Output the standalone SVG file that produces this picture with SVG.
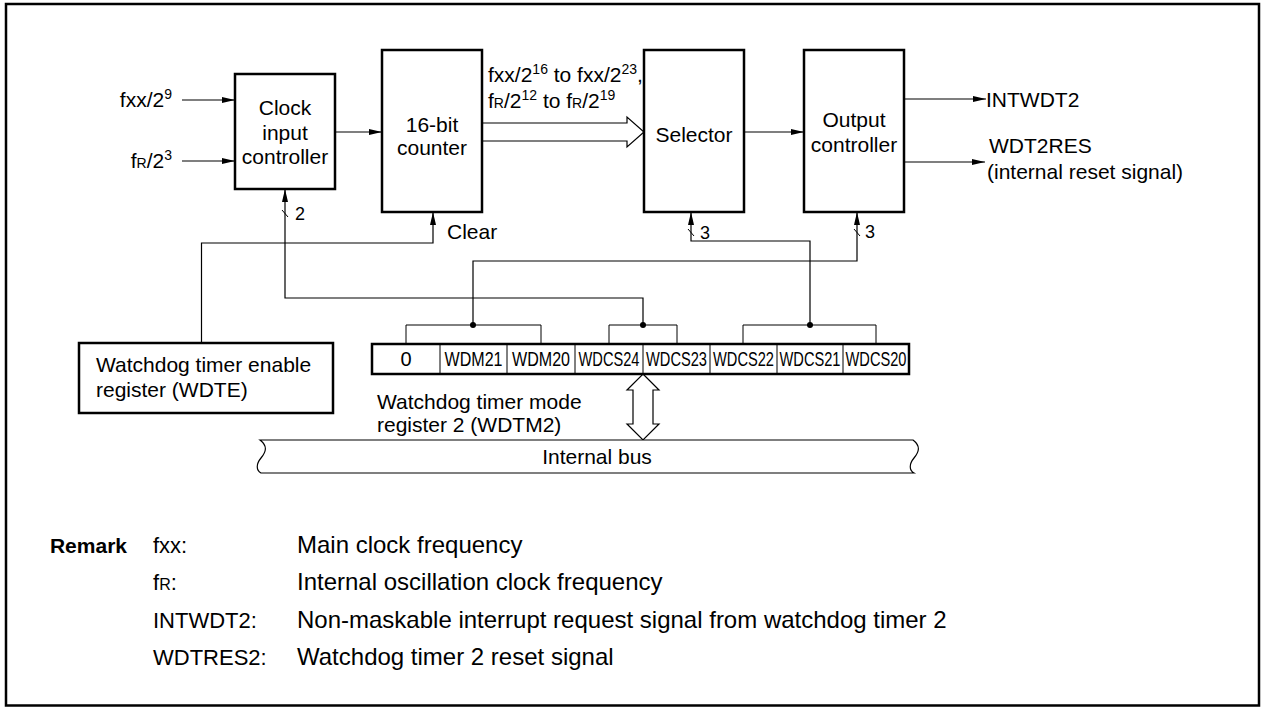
<svg xmlns="http://www.w3.org/2000/svg" width="1262" height="707" viewBox="0 0 1262 707">
<style>
text{font-family:"Liberation Sans",Arial,Helvetica,sans-serif;font-size:21px;fill:#000}
.box{fill:#fff;stroke:#000;stroke-width:2.5}
.ln{fill:none;stroke:#000;stroke-width:1.2}
.thin{fill:none;stroke:#000;stroke-width:1}
.c{text-anchor:middle}
.reg{font-size:20px;text-anchor:middle}
.lb{font-size:22px}
.rm{font-size:24px}
.sm{font-size:18px}
</style>
<defs>
<marker id="ah" markerWidth="13" markerHeight="6" refX="13" refY="3" orient="auto" markerUnits="userSpaceOnUse"><path d="M0,0 L13,3 L0,6 z" fill="#000"/></marker>
</defs>
<rect x="6" y="4" width="1253" height="701.5" fill="#fff" stroke="#000" stroke-width="2.5"/>

<g id="connectors">
<path class="ln" d="M182,100 H235" marker-end="url(#ah)"/>
<path class="ln" d="M182,161 H235" marker-end="url(#ah)"/>
<path class="ln" d="M335,132 H382" marker-end="url(#ah)"/>
<path class="ln" d="M744,132 H804" marker-end="url(#ah)"/>
<path class="ln" d="M904,99 H986" marker-end="url(#ah)"/>
<path class="ln" d="M904,162 H985" marker-end="url(#ah)"/>
<path class="ln" d="M201.5,343 V243 H433 V212" marker-end="url(#ah)"/>
<path class="ln" d="M643,325 V298 H285 V189" marker-end="url(#ah)"/>
<path class="ln" d="M810,325 V241 H691 V212" marker-end="url(#ah)"/>
<path class="ln" d="M473,325 V261 H857 V212" marker-end="url(#ah)"/>
<path class="thin" d="M282,210 L288,217 M688,229 L694,236 M854,229 L860,236"/>
<path class="thin" d="M406,344 V325 H541 V344 M609,344 V325 H677 V344 M743,344 V325 H876 V344"/>
<circle cx="473" cy="325" r="3"/>
<circle cx="643" cy="325" r="3"/>
<circle cx="810" cy="325" r="3"/>
<path d="M482,123 H627 V117 L644,132 L627,147 V141 H482" fill="#fff" stroke="#000" stroke-width="1.2"/>
<path d="M643,374 L659,390 L653,390 L653,424 L659,424 L643,440 L627,424 L633,424 L633,390 L627,390 Z" fill="#fff" stroke="#000" stroke-width="1.2"/>
</g>

<g id="inputs">
<text x="172" y="107" text-anchor="end">fxx/2<tspan font-size="14" dy="-8">9</tspan></text>
<text x="172" y="168" text-anchor="end">f<tspan font-size="14">R</tspan>/2<tspan font-size="14" dy="-8">3</tspan></text>
</g>

<g id="clock-input-controller">
<rect class="box" x="235" y="74" width="100" height="115"/>
<text class="c" x="285" y="115">Clock</text>
<text class="c" x="285" y="140">input</text>
<text class="c" x="285" y="164">controller</text>
<text class="sm" x="295" y="220">2</text>
</g>

<g id="counter">
<rect class="box" x="382" y="50" width="100" height="162"/>
<text class="c" x="432" y="132">16-bit</text>
<text class="c" x="432" y="155">counter</text>
<text x="447" y="239">Clear</text>
</g>

<g id="counter-output-label">
<text x="488" y="82">fxx/2<tspan font-size="14" dy="-8">16</tspan><tspan dy="8"> to fxx/2</tspan><tspan font-size="14" dy="-8">23</tspan><tspan dy="8">,</tspan></text>
<text x="488" y="108">f<tspan font-size="14">R</tspan>/2<tspan font-size="14" dy="-8">12</tspan><tspan dy="8"> to f</tspan><tspan font-size="14">R</tspan>/2<tspan font-size="14" dy="-8">19</tspan></text>
</g>

<g id="selector">
<rect class="box" x="644" y="50" width="100" height="162"/>
<text class="c" x="694" y="142">Selector</text>
<text class="sm" x="700" y="239">3</text>
</g>

<g id="output-controller">
<rect class="box" x="804" y="50" width="100" height="162"/>
<text class="c" x="854" y="127">Output</text>
<text class="c" x="854" y="152">controller</text>
<text class="sm" x="865" y="238">3</text>
</g>

<g id="outputs">
<text x="986" y="107">INTWDT2</text>
<text x="989" y="153">WDT2RES</text>
<text x="987" y="179">(internal reset signal)</text>
</g>

<g id="wdte">
<rect class="box" x="79" y="343" width="254" height="70"/>
<text x="96" y="372">Watchdog timer enable</text>
<text x="96" y="397">register (WDTE)</text>
</g>

<g id="wdtm2">
<rect x="372" y="344" width="537" height="30" fill="#fff" stroke="#000" stroke-width="2.5"/>
<path class="thin" d="M440,344 V374 M507,344 V374 M575,344 V374 M643,344 V374 M710,344 V374 M777,344 V374 M843,344 V374"/>
<text class="reg" x="406" y="366">0</text>
<text class="reg" x="473.5" y="366" textLength="58" lengthAdjust="spacingAndGlyphs">WDM21</text>
<text class="reg" x="541" y="366" textLength="58" lengthAdjust="spacingAndGlyphs">WDM20</text>
<text class="reg" x="609" y="366" textLength="61" lengthAdjust="spacingAndGlyphs">WDCS24</text>
<text class="reg" x="676.5" y="366" textLength="61" lengthAdjust="spacingAndGlyphs">WDCS23</text>
<text class="reg" x="743.5" y="366" textLength="61" lengthAdjust="spacingAndGlyphs">WDCS22</text>
<text class="reg" x="810" y="366" textLength="61" lengthAdjust="spacingAndGlyphs">WDCS21</text>
<text class="reg" x="876" y="366" textLength="61" lengthAdjust="spacingAndGlyphs">WDCS20</text>
<text x="377" y="409">Watchdog timer mode</text>
<text x="377" y="432">register 2 (WDTM2)</text>
</g>

<g id="internal-bus">
<path d="M260,440 H913 C921,446 919,452 914,458 C909,464 909,470 914,473 H261 C256,470 256,464 261,458 C266,452 268,446 260,440 Z" fill="#fff" stroke="#000" stroke-width="1.2"/>
<text class="c" x="597" y="464">Internal bus</text>
</g>

<g id="remark">
<text x="127" y="553" text-anchor="end" font-weight="bold" font-size="22">Remark</text>
<text class="lb" x="153" y="553">fxx:</text>
<text class="rm" x="297" y="553">Main clock frequency</text>
<text class="lb" x="153" y="590">f<tspan font-size="16">R</tspan>:</text>
<text class="rm" x="297" y="590">Internal oscillation clock frequency</text>
<text class="lb" x="153" y="628">INTWDT2:</text>
<text class="rm" x="297" y="628">Non-maskable interrupt request signal from watchdog timer 2</text>
<text class="lb" x="153" y="665">WDTRES2:</text>
<text class="rm" x="297" y="665">Watchdog timer 2 reset signal</text>
</g>
</svg>
